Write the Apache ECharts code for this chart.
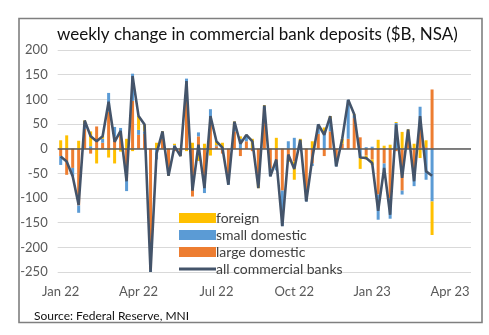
<!DOCTYPE html>
<html>
<head>
<meta charset="utf-8">
<script src="https://cdn.jsdelivr.net/npm/echarts@6/dist/echarts.min.js"></script>
<style>
html,body{margin:0;padding:0;background:#fff;}
#chart{width:489px;height:335px;}
</style>
</head>
<body>
<div id="chart"></div>
<script>
// ---- data (weekly, week ending Wednesday, from 5 Jan 2022) ----
const firstWeek = '2022-01-05';
const axisWeeks = 69; // axis runs to end of April 2023
const tickLabels = ['Jan 22', 'Apr 22', 'Jul 22', 'Oct 22', 'Jan 23', 'Apr 23'];
const largeDomestic = [-15,-53,-39,-115,40,-10,45,12,75,24,30,-63,97,28,30,-245,0,20,-40,-5,-10,105,-97,25,-60,55,5,-10,-60,35,-15,15,-5,-60,80,-40,-30,-85,-25,-26,0,-95,-30,30,-15,35,-20,10,20,62,23,-14,-22,-93,-30,-100,-5,-85,35,-56,40,3,120];
const smallDomestic = [-18,0,-17,-15,5,5,0,8,38,20,12,-23,55,10,5,-5,-22,12,-10,7,-3,37,0,8,-30,25,2,0,-13,5,20,10,0,-5,6,-16,-14,-72,15,22,-2,-12,-5,19,30,25,-16,0,79,6,-19,3,4,-51,-15,-42,52,-8,0,-20,45,-63,-107];
const foreign = [17,27,0,16,12,30,-30,5,-18,-30,-6,20,-5,28,14,0,12,3,-5,3,-2,-5,12,-25,10,-14,8,12,0,15,5,3,20,-15,2,0,22,0,-2,-37,20,0,15,0,13,6,0,10,0,2,-22,-8,-11,18,6,8,2,34,4,10,-19,14,-68];
const allBanks = [-16,-26,-56,-114,57,25,15,25,95,14,36,-66,147,66,49,-250,-10,35,-55,5,-15,137,-85,8,-80,66,15,2,-73,55,10,28,15,-80,88,-56,-22,-157,-12,-41,18,-107,-20,49,28,66,-36,20,99,70,-18,-19,-29,-126,-39,-134,49,-59,39,-66,66,-46,-55];

const titleText = 'weekly change in commercial bank deposits ($B, NSA)';
const sourceText = 'Source: Federal Reserve, MNI';
const monthNames = ['Jan','Feb','Mar','Apr','May','Jun','Jul','Aug','Sep','Oct','Nov','Dec'];

// weekly category list
const weeks = [];
{
  const d0 = new Date(firstWeek + 'T00:00:00Z');
  for (let i = 0; i < axisWeeks; i++) {
    const d = new Date(d0.getTime() + i * 7 * 86400000);
    weeks.push(d.toISOString().slice(0, 10));
  }
}
function weekLabel(s) {
  const m = +s.slice(5, 7) - 1;
  return monthNames[m] + ' ' + s.slice(2, 4);
}
function isTick(s) {
  const day = +s.slice(8, 10);
  return day <= 7 && tickLabels.indexOf(weekLabel(s)) >= 0;
}

const FONT = 'Lato';
const LINE_ICON = 'path://M0,0 L0,0 M37,10 L37,10 M0,3.6 L37,3.6 L37,6.4 L0,6.4 Z';
const chart = echarts.init(document.getElementById('chart'), null, {renderer: 'canvas'});
chart.setOption({
  animation: false,
  backgroundColor: '#ffffff',
  title: [
    {text: titleText, left: 57, top: 26, padding: 0,
     textStyle: {fontFamily: FONT, fontSize: 17, fontWeight: 'normal', color: '#111'}},
    {text: sourceText, left: 29, top: 305,
     textStyle: {fontFamily: FONT, fontSize: 12, fontWeight: 'normal', color: '#111'}}
  ],
  graphic: [{
    type: 'rect', left: 16.5, top: 16, silent: true,
    shape: {width: 463, height: 304},
    style: {fill: 'none', stroke: '#7f7f7f', lineWidth: 1.6}
  }],
  legend: {
    orient: 'vertical', left: 174, top: 206,
    itemWidth: 37, itemHeight: 10, itemGap: 3,
    data: [
      {name: 'foreign', icon: 'rect'},
      {name: 'small domestic', icon: 'rect'},
      {name: 'large domestic', icon: 'rect'},
      {name: 'all commercial banks', icon: LINE_ICON}
    ],
    textStyle: {fontFamily: FONT, fontSize: 14, color: '#404040', padding: [0, 0, 0, -5]}
  },
  grid: {left: 57.7, right: 18, top: 50, bottom: 63},
  xAxis: {
    type: 'category', data: weeks, boundaryGap: true,
    axisLine: {show: false}, axisTick: {show: false},
    axisLabel: {
      interval: function (idx, val) { return isTick(val); },
      formatter: function (val) { return weekLabel(val); },
      fontFamily: FONT, fontSize: 13, color: '#595959', margin: 13
    },
    splitLine: {show: false}
  },
  yAxis: {
    type: 'value', min: -250, max: 200, interval: 50,
    axisLine: {show: false}, axisTick: {show: false},
    axisLabel: {fontFamily: FONT, fontSize: 13, color: '#595959', margin: 10},
    splitLine: {lineStyle: {color: '#d9d9d9', width: 1}}
  },
  series: [
    {name: 'large domestic', type: 'bar', stack: 'dep', data: largeDomestic,
     barWidth: 3, itemStyle: {color: '#ED7D31'}},
    {name: 'small domestic', type: 'bar', stack: 'dep', data: smallDomestic,
     barWidth: 3, itemStyle: {color: '#5B9BD5'}},
    {name: 'foreign', type: 'bar', stack: 'dep', data: foreign,
     barWidth: 3, itemStyle: {color: '#FFC000'}},
    {name: 'all commercial banks', type: 'line', data: allBanks,
     symbol: 'none', lineStyle: {color: '#44546A', width: 2.6}, itemStyle: {color: '#44546A'},
     z: 5,
     markLine: {silent: true, symbol: 'none', label: {show: false},
       lineStyle: {color: '#5a5a5a', width: 1.5, type: 'solid'},
       data: [{yAxis: 0}]}}
  ]
});
</script>
</body>
</html>
